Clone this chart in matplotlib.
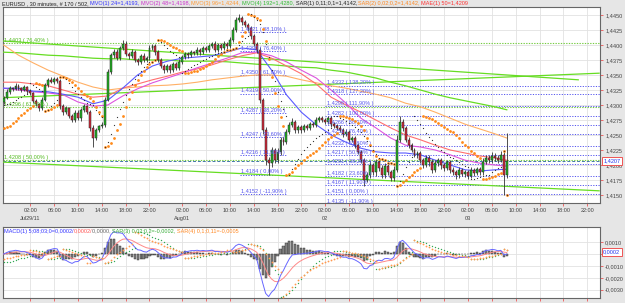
import numpy as np
import pandas as pd
import matplotlib
matplotlib.use("Agg")
import matplotlib.pyplot as plt
from matplotlib import font_manager as fm

# ---------------- data ----------------
first_open = 1.4305
close = [1.4312, 1.4322, 1.4328, 1.4327, 1.4332, 1.4328, 1.4325, 1.4330, 1.4323, 1.4320,
         1.4307, 1.4302, 1.4295, 1.4308, 1.4333, 1.4342, 1.4338, 1.4343, 1.4340, 1.4298,
         1.4288, 1.4295, 1.4282, 1.4275, 1.4287, 1.4278, 1.4292, 1.4298, 1.4288, 1.4262,
         1.4245, 1.4258, 1.4265, 1.4267, 1.4308, 1.4355, 1.4383, 1.4388, 1.4378, 1.4395,
         1.4402, 1.4385, 1.4382, 1.4388, 1.4375, 1.4372, 1.4382, 1.4375, 1.4378, 1.4395,
         1.4398, 1.4388, 1.4375, 1.4365, 1.4358, 1.4365, 1.4358, 1.4368, 1.4362, 1.4372,
         1.4380, 1.4385, 1.4383, 1.4388, 1.4387, 1.4392, 1.4388, 1.4395, 1.4392, 1.4398,
         1.4402, 1.4392, 1.4400, 1.4395, 1.4402, 1.4398, 1.4408, 1.4425, 1.4442, 1.4445,
         1.4438, 1.4433, 1.4428, 1.4415, 1.4402, 1.4392, 1.4308, 1.4258, 1.4208, 1.4203,
         1.4225, 1.4208, 1.4222, 1.4242, 1.4238, 1.4255, 1.4267, 1.4272, 1.4258, 1.4263,
         1.4258, 1.4265, 1.4262, 1.4268, 1.4267, 1.4275, 1.4278, 1.4275, 1.4272, 1.4278,
         1.4268, 1.4265, 1.4262, 1.4258, 1.4252, 1.4255, 1.4242, 1.4245, 1.4233, 1.4222,
         1.4208, 1.4175, 1.4183, 1.4200, 1.4188, 1.4205, 1.4195, 1.4183, 1.4198, 1.4188,
         1.4178, 1.4192, 1.4242, 1.4272, 1.4262, 1.4242, 1.4233, 1.4225, 1.4217, 1.4220,
         1.4208, 1.4200, 1.4212, 1.4205, 1.4192, 1.4203, 1.4208, 1.4200, 1.4195, 1.4205,
         1.4192, 1.4188, 1.4183, 1.4192, 1.4185, 1.4188, 1.4182, 1.4192, 1.4187, 1.4193,
         1.4188, 1.4205, 1.4212, 1.4208, 1.4215, 1.4212, 1.4208, 1.4217, 1.4183, 1.4207]
upper_wick_pips = [3, 4, 3, 2, 4, 3, 2, 3, 2, 3,  2, 3, 2, 5, 4, 3, 4, 3, 4, 3,
                   4, 3, 2, 3, 5, 4, 3, 4, 2, 3,  4, 3, 2, 4, 6, 5, 4, 6, 5, 4,
                   7, 4, 3, 5, 3, 4, 3, 4, 3, 5,  4, 3, 3, 4, 3, 3, 4, 3, 3, 4,
                   3, 4, 3, 3, 2, 4, 3, 3, 4, 3,  3, 4, 3, 3, 4, 3, 6, 5, 4, 6,
                   3, 4, 3, 3, 4, 3, 5, 4, 5, 6,  5, 4, 6, 5, 4, 5, 4, 6, 3, 4,
                   3, 4, 3, 4, 3, 5, 4, 3, 4, 3,  3, 4, 3, 4, 3, 5, 3, 4, 3, 3,
                   3, 4, 5, 6, 4, 5, 4, 5, 6, 4,  4, 6, 8, 10, 4, 3, 4, 3, 4, 3,
                   3, 4, 5, 4, 5, 6, 4, 3, 4, 4,  3, 4, 3, 4, 3, 4, 3, 5, 3, 4,
                   3, 6, 5, 4, 6, 5, 4, 6, 5, 46]
lower_wick_pips = [3, 2, 3, 4, 2, 3, 3, 2, 4, 3,  4, 3, 5, 3, 2, 3, 2, 3, 3, 4,
                   5, 3, 4, 4, 3, 3, 4, 3, 3, 5,  15, 4, 3, 3, 3, 2, 3, 4, 3, 3,
                   3, 4, 5, 3, 4, 5, 4, 3, 4, 3,  3, 4, 3, 4, 5, 3, 4, 3, 4, 3,
                   3, 3, 4, 3, 3, 3, 4, 3, 3, 3,  3, 4, 3, 4, 3, 4, 3, 3, 3, 3,
                   4, 3, 4, 5, 4, 5, 4, 6, 8, 19,  6, 5, 4, 5, 4, 3, 4, 3, 4, 5,
                   4, 3, 4, 3, 4, 3, 3, 4, 3, 4,  4, 3, 4, 3, 5, 4, 4, 3, 5, 4,
                   5, 10, 4, 5, 4, 6, 5, 4, 5, 4,  5, 4, 3, 4, 5, 4, 4, 3, 4, 5,
                   4, 5, 4, 6, 5, 4, 5, 6, 5, 4,  5, 4, 6, 5, 4, 5, 6, 4, 5, 4,
                   5, 4, 3, 4, 4, 5, 4, 3, 33, 4]

# moving averages read every 5 bars
ma_idx = [0, 5, 10, 15, 20, 25, 30, 35, 40, 45, 50, 55, 60, 65, 70, 75, 80, 85, 90, 95,
          100, 105, 110, 115, 120, 125, 130, 135, 140, 145, 150, 155, 160, 165, 169]
mvo24 = [1.4328, 1.4328, 1.4323, 1.4322, 1.4318, 1.4313, 1.4302, 1.4308, 1.4328, 1.4350,
         1.4365, 1.4373, 1.4378, 1.4380, 1.4382, 1.4388, 1.4395, 1.4392, 1.4358, 1.4317,
         1.4288, 1.4267, 1.4250, 1.4238, 1.4228, 1.4222, 1.4220, 1.4220, 1.4217, 1.4208,
         1.4200, 1.4192, 1.4190, 1.4192, 1.4193]
mvo48 = [1.4328, 1.4325, 1.4322, 1.4320, 1.4317, 1.4305, 1.4298, 1.4300, 1.4315, 1.4327,
         1.4337, 1.4345, 1.4353, 1.4362, 1.4370, 1.4378, 1.4387, 1.4388, 1.4382, 1.4372,
         1.4358, 1.4345, 1.4325, 1.4303, 1.4278, 1.4262, 1.4245, 1.4233, 1.4230, 1.4225,
         1.4217, 1.4208, 1.4203, 1.4200, 1.4198]
mvo96 = [1.4400, 1.4383, 1.4370, 1.4358, 1.4348, 1.4338, 1.4330, 1.4325, 1.4328, 1.4330,
         1.4332, 1.4333, 1.4335, 1.4338, 1.4342, 1.4345, 1.4348, 1.4350, 1.4350, 1.4348,
         1.4342, 1.4337, 1.4332, 1.4328, 1.4323, 1.4318, 1.4312, 1.4303, 1.4297, 1.4288,
         1.4278, 1.4268, 1.4260, 1.4252, 1.4245]
mvo192 = [1.4388, 1.4387, 1.4385, 1.4383, 1.4382, 1.4380, 1.4378, 1.4377, 1.4377, 1.4375,
          1.4375, 1.4375, 1.4373, 1.4373, 1.4373, 1.4372, 1.4370, 1.4368, 1.4367, 1.4365,
          1.4363, 1.4362, 1.4358, 1.4355, 1.4350, 1.4345, 1.4338, 1.4332, 1.4325, 1.4318,
          1.4312, 1.4307, 1.4302, 1.4297, 1.4292]
mae50 = [1.4338, 1.4338, 1.4335, 1.4332, 1.4325, 1.4318, 1.4313, 1.4315, 1.4328, 1.4335,
         1.4342, 1.4348, 1.4355, 1.4360, 1.4367, 1.4375, 1.4382, 1.4387, 1.4378, 1.4365,
         1.4352, 1.4335, 1.4313, 1.4300, 1.4288, 1.4275, 1.4262, 1.4250, 1.4242, 1.4233,
         1.4225, 1.4220, 1.4215, 1.4212, 1.4208]

# trend lines (bar index, price)
trend_top = [(-1, 1.4407), (193, 1.4342)]
trend_rise = [(-1, 1.4312), (200, 1.4353)]
trend_low = [(-1, 1.4205), (200, 1.4157)]

# fibonacci sets
fib_left_price = [1.4421, 1.4390, 1.4350, 1.4319, 1.4287, 1.4247, 1.4216, 1.4184, 1.4152]
fib_left_pct = ["88,10%", "76,40%", "61,80%", "50,00%", "38,20%", "23,60%", "11,90%", "0,00%", "-11,90%"]
fib_right_price = [1.4332, 1.4318, 1.4298, 1.4282, 1.4266, 1.4251, 1.4232, 1.4217, 1.4201,
                   1.4182, 1.4167, 1.4151, 1.4135]
fib_right_pct = ["138,20%", "127,20%", "111,90%", "100,00%", "88,10%", "76,40%", "61,80%",
                 "50,00%", "38,20%", "23,60%", "11,90%", "0,00%", "-11,90%"]
fib_green_price = [1.4403, 1.4296, 1.4208]
fib_green_pct = ["76,40%", "61,80%", "50,00%"]
last_price = 1.4207
macd_last = 0.0002

tick_idx = [9, 17, 25, 33, 41, 49, 60, 68, 76, 84, 92, 100, 108, 116, 124, 132, 140, 148,
            156, 164, 172, 180, 188, 196]
tick_time = ["02:00", "06:00", "10:00", "14:00", "18:00", "22:00"] * 4
date_labels = {9: "Jul29/11", 60: "Aug01", 108: "02", 156: "03"}

sar_start_slow = 1.4262
sar_start_fast = 1.4300
macd_sar_start = [-0.0007, -0.0004]

# ---------------- derived ----------------
close = np.array(close)
n = len(close)
opens = np.concatenate([[first_open], close[:-1]])
highs = np.maximum(opens, close) + np.array(upper_wick_pips) / 10000.0
lows = np.minimum(opens, close) - np.array(lower_wick_pips) / 10000.0
idx = np.arange(n)


def psar(hi, lo, step, amax, start, bull=True):
    out = np.empty(len(hi))
    af = step
    s = start
    ep = hi[0] if bull else lo[0]
    out[0] = s
    for i in range(1, len(hi)):
        s = s + af * (ep - s)
        if bull:
            s = min(s, lo[i - 1], lo[max(i - 2, 0)])
            if lo[i] < s:
                bull = False
                s = ep
                ep = lo[i]
                af = step
            elif hi[i] > ep:
                ep = hi[i]
                af = min(af + step, amax)
        else:
            s = max(s, hi[i - 1], hi[max(i - 2, 0)])
            if hi[i] > s:
                bull = True
                s = ep
                ep = hi[i]
                af = step
            elif lo[i] < ep:
                ep = lo[i]
                af = min(af + step, amax)
        out[i] = s
    return out


sar_slow = psar(highs, lows, 0.02, 0.2, sar_start_slow)
sar_fast = psar(highs, lows, 0.1, 0.11, sar_start_fast)

cs = pd.Series(close)
macd = (cs.ewm(span=5, adjust=False).mean() - cs.ewm(span=8, adjust=False).mean()).values
signal = pd.Series(macd).ewm(span=8, adjust=False).mean().values
hist = macd - signal
msar1 = psar(macd, macd, 0.02, 0.2, macd_sar_start[0])
msar2 = psar(macd, macd, 0.1, 0.11, macd_sar_start[1])

# ---------------- fonts ----------------
names = {f.name for f in fm.fontManager.ttflist}
if "Liberation Sans Narrow" in names:
    FAM = ["Liberation Sans Narrow", "DejaVu Sans"]
    FS = 4.9
else:
    FAM = ["Liberation Sans", "DejaVu Sans"]
    FS = 4.0
plt.rcParams["font.family"] = FAM

# ---------------- figure ----------------
W, H = 625, 303
fig = plt.figure(figsize=(W / 100, H / 100), dpi=100, facecolor="#e6e6e6")

ax = fig.add_axes([3 / W, 1 - 203 / H, 597 / W, 196 / H])
ax2 = fig.add_axes([3 / W, 1 - 298 / H, 597 / W, 71 / H])
XL = (-0.2, 200.3)

for a in (ax, ax2):
    a.set_facecolor("white")
    a.set_xlim(*XL)
    for sp in a.spines.values():
        sp.set_color("#666666")
        sp.set_linewidth(0.8)
    a.set_xticks(tick_idx)
    a.grid(True, color="#e2e2e2", linewidth=0.6)
    a.set_axisbelow(True)
    a.yaxis.tick_right()
    a.tick_params(axis="both", length=2.5, width=0.6, color="#ee5555",
                  labelsize=FS, labelcolor="#444444", pad=1.2)

ax.set_ylim(1.41367, 1.44633)
yt = np.arange(1.4150, 1.44501, 0.0025)
ax.set_yticks(yt)
ax.set_yticklabels([("%.4f" % v).replace(".", ",") for v in yt])
ax.set_xticklabels([t + ("\n" + date_labels[i] if i in date_labels else "\n")
                    for i, t in zip(tick_idx, tick_time)], linespacing=1.6)

# full-width dotted green fib lines
for p, pc in zip(fib_green_price, fib_green_pct):
    ax.axhline(p, color="#77cc44", lw=0.8, ls=(0, (1.2, 1.2)), zorder=2)
    ax.text(0.3, p + 0.00005, "%s ( %s )" % (("%.4f" % p).replace(".", ","), pc),
            color="#55bb22", fontsize=FS, va="bottom", ha="left", zorder=6)

ax.axhline(last_price, color="#4477aa", lw=0.7, ls=(0, (3, 2)), zorder=2)

# right fib set
for p, pc in zip(fib_right_price, fib_right_pct):
    ax.plot([108, XL[1]], [p, p], color="#5555ee", lw=0.7, ls=(0, (1.2, 1.5)), zorder=3)
    ax.text(108.5, p + 0.00005, "%s ( %s )" % (("%.4f" % p).replace(".", ","), pc),
            color="#5555ee", fontsize=FS, va="bottom", ha="left", zorder=6)
# left fib set
for p, pc in zip(fib_left_price, fib_left_pct):
    ax.plot([79.5, 95], [p, p], color="#5555ee", lw=0.7, ls=(0, (1.2, 1.5)), zorder=3)
    ax.text(79.8, p + 0.00005, "%s ( %s )" % (("%.4f" % p).replace(".", ","), pc),
            color="#5555ee", fontsize=FS, va="bottom", ha="left", zorder=6)

# trend lines
for tl in (trend_top, trend_rise, trend_low):
    ax.plot([tl[0][0], tl[1][0]], [tl[0][1], tl[1][1]], color="#66dd22", lw=0.9, zorder=3)

# moving averages
ax.plot(ma_idx, mvo192, color="#66dd22", lw=0.9, zorder=3)
ax.plot(ma_idx, mvo96, color="#ffb066", lw=0.8, zorder=3)
ax.plot(ma_idx, mae50, color="#ff6f6f", lw=0.8, zorder=3)
ax.plot(ma_idx, mvo48, color="#dd55dd", lw=0.8, zorder=3)
ax.plot(ma_idx, mvo24, color="#5a5aff", lw=0.8, zorder=3)

# candles
up = close >= opens
ax.vlines(idx, lows, highs, color="#333333", lw=0.6, zorder=4)
body_lo = np.minimum(opens, close)
body_h = np.maximum(np.abs(close - opens), 0.00008)
ax.bar(idx[up], body_h[up], bottom=body_lo[up], width=0.65, color="#22b422",
       edgecolor="#222222", linewidth=0.35, zorder=5)
ax.bar(idx[~up], body_h[~up], bottom=body_lo[~up], width=0.65, color="#d42a3a",
       edgecolor="#222222", linewidth=0.35, zorder=5)

# SAR dots
ax.plot(idx, sar_slow, ls="none", marker="o", ms=2.0, color="#ff8a1a", mew=0, zorder=6)
ax.plot(idx, sar_fast, ls="none", marker="o", ms=0.9, color="#333333", mew=0, zorder=6)

# price box
ax.annotate(("%.4f" % last_price).replace(".", ","), xy=(1.0, last_price),
            xycoords=("axes fraction", "data"), xytext=(2.3, 0), textcoords="offset points",
            fontsize=FS, color="#2233ee", va="center", ha="left", annotation_clip=False,
            bbox=dict(boxstyle="square,pad=0.25", fc="white", ec="#ee5555", lw=0.7), zorder=10)

# ---------------- MACD panel ----------------
ax2.set_ylim(-0.003697, 0.002269)
mt = [0.001, 0.0, -0.001, -0.002, -0.003]
ax2.set_yticks(mt)
# the zero label sits under the current-value box, as in the original
ax2.set_yticklabels([("%.4f" % v).replace(".", ",") if v != 0 else "" for v in mt])
ax2.set_xticklabels([])
ax2.bar(idx, hist, width=0.7, color="#808080", edgecolor="#2a2a2a", linewidth=0.3, zorder=3)
ax2.plot(idx, signal, color="#ff8888", lw=0.7, zorder=4)
ax2.plot(idx, macd, color="#6666ff", lw=0.7, zorder=4)
ax2.plot(idx, msar1, ls="none", marker="o", ms=1.0, color="#33aa55", mew=0, zorder=5)
ax2.plot(idx, msar2, ls="none", marker="o", ms=1.3, color="#ff9a50", mew=0, zorder=5)
ax2.annotate(("%.4f" % macd_last).replace(".", ","), xy=(1.0, macd_last),
             xycoords=("axes fraction", "data"), xytext=(2.3, 0), textcoords="offset points",
             fontsize=FS, color="#2233ee", va="center", ha="left", annotation_clip=False,
             bbox=dict(boxstyle="square,pad=0.25", fc="white", ec="#ee5555", lw=0.7), zorder=10)

# ---------------- header texts ----------------
fig.canvas.draw()
r = fig.canvas.get_renderer()


def colored_line(pieces, x_px, y_px):
    x = x_px / W
    for txt, col in pieces:
        t = fig.text(x, 1 - y_px / H, txt, color=col, fontsize=FS, va="center", ha="left")
        bb = t.get_window_extent(renderer=r)
        x += bb.width / W


colored_line([("EURUSD , 30 minutes, # 170 / 502, ", "#222222"),
              ("MVO(1) 24=1,4193, ", "#3333ff"),
              ("MVO(2) 48=1,4198, ", "#cc33cc"),
              ("MVO(3) 96=1,4244, ", "#ff9933"),
              ("MVO(4) 192=1,4280, ", "#33bb33"),
              ("SAR(1) 0,11;0,1=1,4142, ", "#222222"),
              ("SAR(2) 0,02;0,2=1,4142, ", "#ff8822"),
              ("MAE(1) 50=1,4209", "#ff3333")], 2, 4)

colored_line([("MACD(1) 5;08;03;0=0,0002/", "#3333ff"),
              ("0,0002/", "#ff5555"),
              ("0,0000, ", "#666666"),
              ("SAR(3) 0,02;0,2=-0,0002, ", "#33aa33"),
              ("SAR(4) 0,1;0,11=-0,0005", "#ff8822")], 4, 231)

fig.savefig("out.png", dpi=100, facecolor=fig.get_facecolor())
